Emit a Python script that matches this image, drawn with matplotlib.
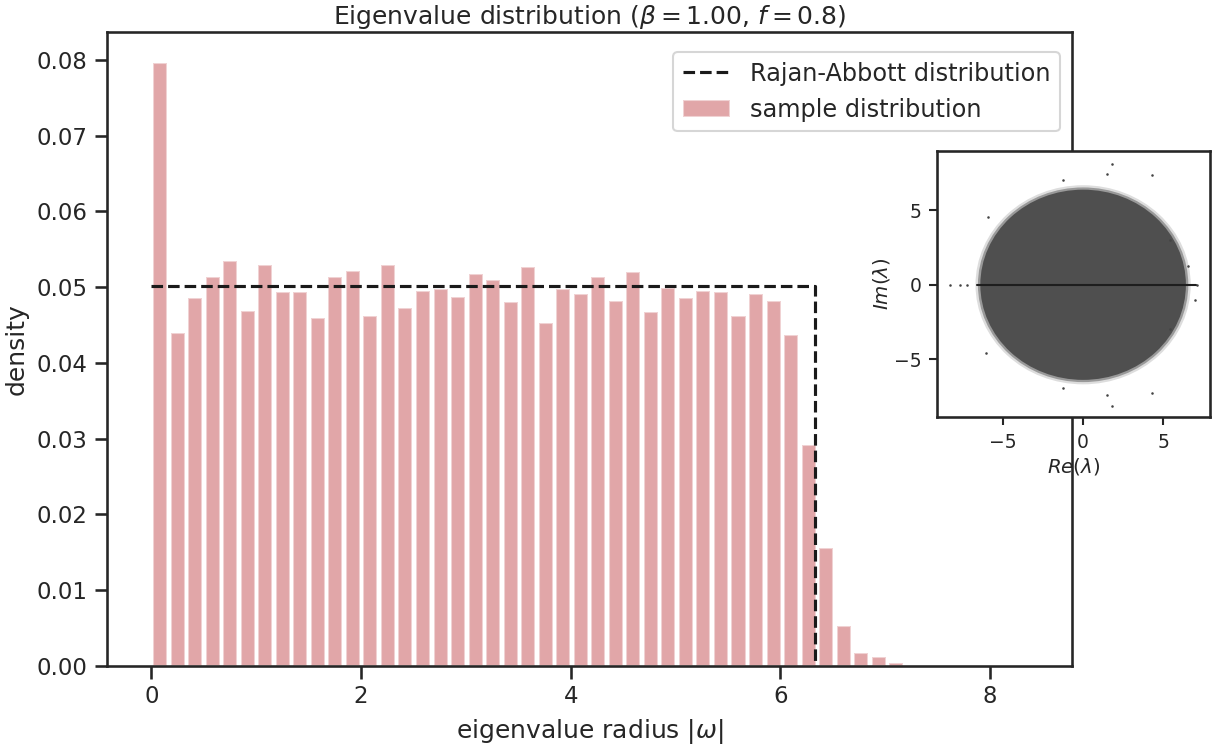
import numpy as np
import matplotlib
matplotlib.use('Agg')
from matplotlib import pyplot as plt
from matplotlib.patches import Circle
import seaborn as sns

# histogram of eigenvalue radii (50 bins from 0 to 8.36)
bin_lo = 0.0
bin_hi = 8.36
density = [0.0796, 0.0440, 0.0485, 0.0514, 0.0535, 0.0469, 0.0529, 0.0493,
           0.0493, 0.0459, 0.0513, 0.0521, 0.0462, 0.0529, 0.0472, 0.0495,
           0.0497, 0.0487, 0.0518, 0.0509, 0.0480, 0.0527, 0.0452, 0.0497,
           0.0491, 0.0513, 0.0482, 0.0520, 0.0467, 0.0499, 0.0485, 0.0495,
           0.0494, 0.0462, 0.0491, 0.0482, 0.0437, 0.0292, 0.0156, 0.0053,
           0.0017, 0.0011, 0.0004, 0.0, 0.0, 0.0, 0.0, 0.0, 0.0, 0.0]

# Rajan-Abbott prediction: flat density up to the spectral radius
ra_radius = 6.33
ra_density = 0.0502

# inset: eigenvalues in the complex plane
disk_radius = 6.4
real_axis_span = [-6.6, 7.0]
out_re = [1.81, 1.81, 1.50, 1.50, 4.29, 4.29, -1.28, -1.28, -5.92, -6.02,
          5.42, 5.42, 6.56, 6.97, -8.29, -7.67, -7.26, 7.07]
out_im = [8.10, -8.15, 7.48, -7.45, 7.37, -7.25, 7.08, -6.92, 4.58, -4.58,
          3.00, -3.00, 1.23, -1.00, 0.0, 0.0, 0.0, 0.0]

sns.set_theme(style='ticks', context='notebook')

fig = plt.figure(figsize=(1214 / 150, 751 / 150), dpi=150)
ax = fig.add_axes([0.0884, 0.1136, 0.7944, 0.8438])

edges = np.linspace(bin_lo, bin_hi, len(density) + 1)
w = edges[1] - edges[0]
centers = edges[:-1] + w / 2
ax.bar(centers, density, width=w * 0.8, color='C3', alpha=0.5,
       label='sample distribution')
ax.plot([bin_lo, ra_radius, ra_radius], [ra_density, ra_density, 0],
        'k--', lw=1.5, label='Rajan-Abbott distribution')

ax.set_xlim(-0.42, 8.78)
ax.set_ylim(0, 0.0837)
ax.set_xticks([0, 2, 4, 6, 8])
ax.set_yticks(np.arange(0, 0.081, 0.01))
ax.set_xlabel(r'eigenvalue radius $|\omega|$')
ax.set_ylabel('density')
ax.set_title(r'Eigenvalue distribution ($\beta = 1.00$, $f = 0.8$)', pad=4)
ax.legend(loc='upper right', fontsize=11.5, bbox_to_anchor=(1, 0.987))

# inset
ins = fig.add_axes([0.7718, 0.4447, 0.2249, 0.3542])
ins.add_patch(Circle((0, 0), disk_radius + 0.3, color='#dddddd', lw=0))
ins.add_patch(Circle((0, 0), disk_radius + 0.15, color='#999999', lw=0))
ins.add_patch(Circle((0, 0), disk_radius, color='#4f4f4f', lw=0))
ins.plot(real_axis_span, [0, 0], color='#1e1e1e', lw=1.0)
ins.scatter(out_re, out_im, s=1.5, color='#444444', lw=0)
ins.set_xlim(-9.1, 7.9)
ins.set_ylim(-8.9, 9.0)
ins.set_xticks([-5, 0, 5])
ins.set_yticks([-5, 0, 5])
ins.tick_params(labelsize=9, length=4, width=1)
ins.set_xlabel(r'$Re(\lambda)$', fontsize=9.5, labelpad=2)
ins.set_ylabel(r'$Im(\lambda)$', fontsize=9.5, labelpad=1)

plt.savefig('out.png')
